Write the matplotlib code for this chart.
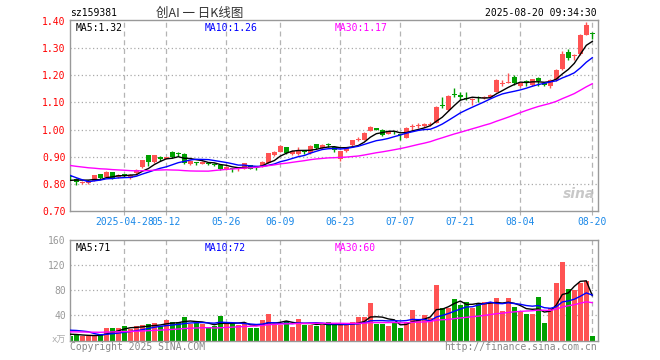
import numpy as np
import pandas as pd
import matplotlib
matplotlib.use("Agg")
import matplotlib.pyplot as plt

plt.rcParams['font.family'] = ['DejaVu Sans Mono', 'Noto Sans CJK SC']

FILE_ANH = "out.png"

# trading days 2025-04-15 .. 2025-08-20 (holidays removed)
holidays = ["2025-05-01", "2025-05-02", "2025-05-05", "2025-06-02"]
days = pd.bdate_range("2025-04-15", "2025-08-20")
days = days[~days.isin(pd.to_datetime(holidays))]

tick_dates = ["2025-04-28", "2025-05-12", "2025-05-26", "2025-06-09", "2025-06-23",
              "2025-07-07", "2025-07-21", "2025-08-04", "2025-08-20"]
tick_labels = ["2025-04-28", "05-12", "05-26", "06-09", "06-23",
               "07-07", "07-21", "08-04", "08-20"]

# closes before the window, only used for the moving averages
pre_close = [0.90, 0.885, 0.89, 0.88, 0.885, 0.875, 0.88,
             0.87, 0.865, 0.875, 0.88, 0.87, 0.865, 0.86, 0.87, 0.875,
             0.92, 0.925, 0.93, 0.92,
             0.89, 0.885, 0.88,
             0.80, 0.79, 0.80, 0.81, 0.81, 0.82]
pre_vol = [11, 13, 12, 14, 12, 11, 13, 12, 14, 13, 12, 11, 12, 13, 12, 14, 13, 12, 13, 13,
           14, 16, 18, 38, 28,
           12, 11, 10, 10]

open_ = [0.826, 0.819, 0.803, 0.805, 0.812, 0.835, 0.826, 0.843, 0.824, 0.833,
         0.822, 0.840, 0.862, 0.905, 0.881, 0.900, 0.893, 0.918, 0.911, 0.910,
         0.875, 0.878, 0.875, 0.877, 0.872, 0.869, 0.855, 0.858, 0.854, 0.856,
         0.868, 0.863, 0.866, 0.878, 0.905, 0.918, 0.935, 0.910, 0.910, 0.921,
         0.913, 0.946, 0.933, 0.944, 0.936, 0.890, 0.921, 0.943, 0.963, 0.963,
         0.996, 1.004, 1.000, 0.985, 0.992, 0.982, 0.970, 1.008, 1.013, 1.015,
         1.018, 1.025, 1.090, 1.072, 1.130, 1.128, 1.118, 1.110, 1.117, 1.115,
         1.120, 1.140, 1.168, 1.173, 1.192, 1.160, 1.180, 1.165, 1.190, 1.170,
         1.160, 1.183, 1.222, 1.284, 1.270, 1.278, 1.350, 1.354]
close = [0.824, 0.807, 0.808, 0.810, 0.831, 0.820, 0.845, 0.822, 0.832, 0.831,
         0.832, 0.850, 0.887, 0.881, 0.905, 0.890, 0.898, 0.898, 0.909, 0.877,
         0.885, 0.876, 0.881, 0.875, 0.870, 0.854, 0.862, 0.853, 0.858, 0.876,
         0.856, 0.861, 0.881, 0.913, 0.918, 0.938, 0.914, 0.920, 0.925, 0.919,
         0.940, 0.933, 0.945, 0.942, 0.925, 0.920, 0.935, 0.960, 0.966, 0.988,
         1.010, 1.000, 0.980, 0.990, 0.990, 0.980, 1.004, 1.011, 1.016, 1.020,
         1.021, 1.085, 1.086, 1.124, 1.127, 1.120, 1.112, 1.113, 1.115, 1.120,
         1.127, 1.183, 1.172, 1.176, 1.173, 1.170, 1.175, 1.185, 1.178, 1.163,
         1.183, 1.220, 1.280, 1.262, 1.275, 1.350, 1.385, 1.352]
high = [0.832, 0.821, 0.810, 0.813, 0.833, 0.837, 0.849, 0.845, 0.838, 0.836,
        0.835, 0.853, 0.889, 0.908, 0.907, 0.903, 0.900, 0.920, 0.918, 0.912,
        0.887, 0.882, 0.884, 0.880, 0.876, 0.871, 0.864, 0.860, 0.860, 0.878,
        0.870, 0.866, 0.883, 0.915, 0.922, 0.945, 0.937, 0.923, 0.935, 0.925,
        0.942, 0.948, 0.948, 0.950, 0.938, 0.922, 0.937, 0.962, 0.972, 0.990,
        1.012, 1.006, 1.002, 0.993, 0.996, 0.985, 1.008, 1.020, 1.023, 1.026,
        1.028, 1.087, 1.120, 1.126, 1.155, 1.140, 1.140, 1.118, 1.122, 1.123,
        1.130, 1.185, 1.183, 1.210, 1.200, 1.173, 1.182, 1.187, 1.195, 1.172,
        1.188, 1.224, 1.290, 1.296, 1.280, 1.352, 1.395, 1.360]
low = [0.815, 0.795, 0.800, 0.800, 0.810, 0.818, 0.824, 0.818, 0.820, 0.826,
       0.818, 0.838, 0.860, 0.866, 0.878, 0.886, 0.890, 0.895, 0.903, 0.874,
       0.871, 0.870, 0.872, 0.868, 0.864, 0.852, 0.850, 0.843, 0.849, 0.855,
       0.854, 0.852, 0.863, 0.876, 0.902, 0.916, 0.910, 0.905, 0.906, 0.910,
       0.910, 0.930, 0.930, 0.935, 0.918, 0.884, 0.919, 0.940, 0.958, 0.960,
       0.993, 0.998, 0.975, 0.982, 0.985, 0.962, 0.968, 1.000, 1.005, 1.010,
       1.012, 1.023, 1.080, 1.068, 1.120, 1.110, 1.110, 1.090, 1.100, 1.112,
       1.117, 1.138, 1.160, 1.170, 1.165, 1.157, 1.160, 1.162, 1.160, 1.160,
       1.155, 1.180, 1.220, 1.255, 1.258, 1.276, 1.348, 1.335]
volume = [7, 10, 7, 7, 8.5, 8.5, 20, 20, 20, 23,
          18.5, 23, 24, 26, 27.5, 23, 32, 29.6, 29.6, 37,
          27, 27.5, 26.5, 21, 23, 39, 26.5, 26.5, 24, 28.5,
          20, 20, 32, 42, 25, 25.4, 30.7, 21.7, 34, 24,
          25.4, 23, 25.4, 29, 25, 24, 24, 29, 37, 37,
          60, 26, 26, 23, 29.6, 20, 29.6, 48, 33, 40,
          36.5, 88, 52, 52, 66, 56, 62, 52, 60, 62,
          62, 67, 47, 67, 53, 45, 41.7, 41.7, 70, 28,
          52, 91, 125, 82.5, 80.5, 92, 95, 7]

RED = "#ff5353"
GREEN = "#00a000"
GRID = "#aaaaaa"
BORDER = "#999999"


def px(x, y):
    return x / 660, 1 - y / 360


def ma(pre, vals, n):
    s = pd.Series(list(pre) + list(vals), dtype=float)
    return s.rolling(n, min_periods=1).mean().values[len(pre):]


def khung(ax, yticks):
    for s in ax.spines.values():
        s.set_color(BORDER)
        s.set_linewidth(1)
    for y in yticks:
        ax.axhline(y, color=GRID, lw=0.9, ls=(0, (1, 2)), zorder=0)
    for t in tick_x:
        ax.axvline(t, color="#b4b4b4", lw=0.9, ls=(0, (4, 3)), zorder=0)
    ax.set_xlim(-0.05, 87.9)


x = np.arange(len(days))
tick_x = [list(days.strftime("%Y-%m-%d")).index(d) for d in tick_dates]
up = [c >= o for o, c in zip(open_, close)]
colors = [RED if u else GREEN for u in up]

fig = plt.figure(figsize=(6.6, 3.6), dpi=100)

# ---- price panel
ax = fig.add_axes([70 / 660, 1 - 211 / 360, 527.7 / 660, 191 / 360])
khung(ax, [0.8, 0.9, 1.0, 1.1, 1.2, 1.3])
ax.set_ylim(0.70, 1.4037)
ax.vlines(x, low, high, colors=colors, lw=1, zorder=3)
body = [max(abs(c - o), 0.0035) for o, c in zip(open_, close)]
bottom = [min(o, c) for o, c in zip(open_, close)]
ax.bar(x, body, bottom=bottom, width=0.78, color=colors, zorder=4)

m5 = ma(pre_close, close, 5)
m10 = ma(pre_close, close, 10)
m30 = ma(pre_close, close, 30)
ax.plot(x, m5, color="black", lw=1, zorder=5)
ax.plot(x, m10, color="#0000ff", lw=1, zorder=5)
ax.plot(x, m30, color="#ff00ff", lw=1, zorder=5)

ax.set_yticks([0.7, 0.8, 0.9, 1.0, 1.1, 1.2, 1.3, 1.4])
ax.set_yticklabels([f"{v:.2f}" for v in ax.get_yticks()])
ax.tick_params(axis="y", length=0, pad=3, labelcolor="red", labelsize=7)
ax.set_xticks(tick_x)
ax.set_xticklabels(tick_labels)
ax.tick_params(axis="x", length=3, color="#b4b4b4", pad=1.5,
               labelcolor="#1a88e8", labelsize=7)

ax.text(0.01, 0.985, f"MA5:{m5[-1]:.2f}", transform=ax.transAxes,
        fontsize=7, color="black", va="top")
ax.text(135 / 527.7, 0.985, f"MA10:{m10[-1]:.2f}", transform=ax.transAxes,
        fontsize=7, color="#0000ff", va="top")
ax.text(265 / 527.7, 0.985, f"MA30:{m30[-1]:.2f}", transform=ax.transAxes,
        fontsize=7, color="#ff00ff", va="top")
ax.text(0.995, 0.05, "sina", transform=ax.transAxes, ha="right", va="bottom",
        fontsize=10, fontweight="bold", style="italic", color="#bbbbbb",
        family="DejaVu Sans", alpha=0.8)

# ---- volume panel
ax2 = fig.add_axes([70 / 660, 1 - 340.5 / 360, 527.7 / 660, 100.5 / 360])
khung(ax2, [40, 80, 120])
ax2.set_ylim(0, 160)
ax2.bar(x, volume, width=0.78, color=colors, zorder=2)

v5 = ma(pre_vol, volume, 5)
v10 = ma(pre_vol, volume, 10)
v30 = ma(pre_vol, volume, 30)
ax2.plot(x, v5, color="black", lw=1, zorder=5)
ax2.plot(x, v10, color="#0000ff", lw=1, zorder=5)
ax2.plot(x, v30, color="#ff00ff", lw=1, zorder=5)

ax2.set_yticks([40, 80, 120, 160])
ax2.tick_params(axis="y", length=0, pad=3, labelcolor=BORDER, labelsize=7)
ax2.set_xticks([])
ax2.text(0.01, 0.975, f"MA5:{v5[-1]:.0f}", transform=ax2.transAxes,
         fontsize=7, color="black", va="top")
ax2.text(135 / 527.7, 0.975, f"MA10:{v10[-1]:.0f}", transform=ax2.transAxes,
         fontsize=7, color="#0000ff", va="top")
ax2.text(265 / 527.7, 0.975, f"MA30:{v30[-1]:.0f}", transform=ax2.transAxes,
         fontsize=7, color="#ff00ff", va="top")

# ---- header / footer text
fig.text(*px(70, 13), "sz159381", fontsize=7, color="black", va="center")
fig.text(*px(200, 13), "创AI 一 日K线图", fontsize=9, color="#333333",
         ha="center", va="center", family=["Noto Sans CJK SC", "DejaVu Sans"])
fig.text(*px(597, 13), "2025-08-20 09:34:30", fontsize=7, color="black",
         ha="right", va="center")
fig.text(*px(66, 340), "x万", fontsize=6.5, color="#aaaaaa", ha="right", va="center")
fig.text(*px(70, 347), "Copyright 2025 SINA.COM", fontsize=7, color="#888888", va="center")
fig.text(*px(597, 347), "http://finance.sina.com.cn", fontsize=7, color="#888888",
         ha="right", va="center")

fig.savefig(FILE_ANH, dpi=100)
